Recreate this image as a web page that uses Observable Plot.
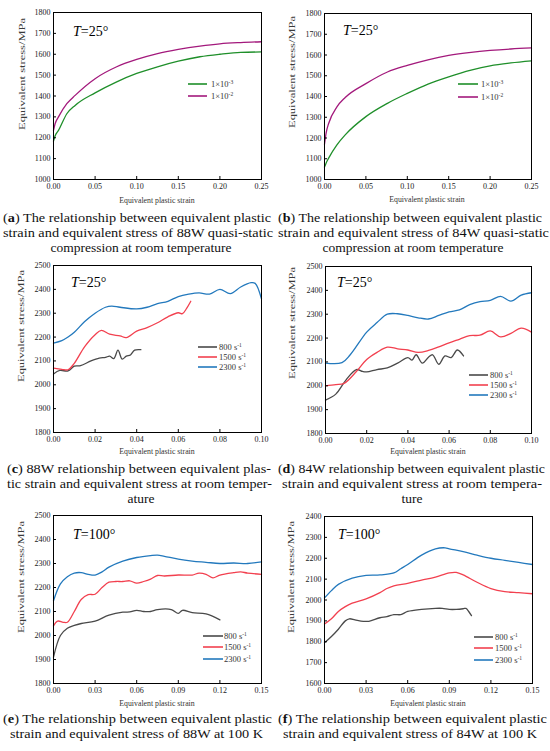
<!DOCTYPE html>
<html><head><meta charset="utf-8">
<script src="https://cdn.jsdelivr.net/npm/d3@7"></script>
<script src="https://cdn.jsdelivr.net/npm/@observablehq/plot@0.6"></script>
<style>
body{margin:0;background:#fff;}
#root{position:relative;width:550px;height:751px;overflow:hidden;background:#fff;}
#root svg{position:absolute;}
</style></head><body><div id="root"></div>
<script>
// ---------- DATA ----------
// (a) 88W quasi-static, room temperature
const aStrain = [0, 0.002, 0.006, 0.016, 0.026, 0.05, 0.076, 0.10, 0.125, 0.15, 0.176, 0.20, 0.225, 0.25];
const aRate3  = [1184, 1210, 1235, 1315, 1355, 1415, 1468, 1508, 1540, 1567, 1588, 1600, 1609, 1611];
const aRate2  = [1235, 1268, 1300, 1363, 1403, 1483, 1540, 1575, 1603, 1623, 1639, 1650, 1656, 1660];
// (b) 84W quasi-static, room temperature
const bStrain = [0, 0.002, 0.005, 0.015, 0.025, 0.05, 0.076, 0.10, 0.125, 0.15, 0.177, 0.20, 0.225, 0.25];
const bRate3  = [1060, 1080, 1103, 1167, 1215, 1303, 1367, 1415, 1460, 1495, 1527, 1548, 1562, 1572];
const bRate2  = [1170, 1225, 1270, 1350, 1395, 1462, 1518, 1550, 1577, 1598, 1613, 1622, 1629, 1634];
// (c) 88W dynamic, room temperature
const c800x  = [0, 0.003, 0.007, 0.010, 0.013, 0.018, 0.022, 0.025, 0.027, 0.029, 0.031, 0.033, 0.035, 0.037, 0.039, 0.042];
const c800y  = [2045, 2060, 2058, 2078, 2080, 2100, 2112, 2115, 2120, 2110, 2145, 2108, 2120, 2125, 2145, 2147];
const c1500x = [0, 0.004, 0.007, 0.010, 0.015, 0.020, 0.023, 0.027, 0.032, 0.035, 0.040, 0.045, 0.050, 0.055, 0.060, 0.062, 0.064, 0.066];
const c1500y = [2070, 2065, 2063, 2090, 2160, 2210, 2228, 2212, 2205, 2198, 2225, 2240, 2260, 2285, 2302, 2298, 2320, 2350];
const c2300x = [0, 0.004, 0.007, 0.010, 0.015, 0.020, 0.025, 0.028, 0.032, 0.040, 0.045, 0.050, 0.055, 0.060, 0.065, 0.070, 0.075, 0.080, 0.085, 0.090, 0.095, 0.097, 0.100];
const c2300y = [2175, 2185, 2200, 2220, 2265, 2300, 2325, 2330, 2325, 2318, 2325, 2340, 2350, 2370, 2380, 2385, 2380, 2400, 2382, 2410, 2428, 2425, 2360];
// (d) 84W dynamic, room temperature
const d800x  = [0, 0.005, 0.010, 0.015, 0.018, 0.020, 0.025, 0.030, 0.035, 0.040, 0.042, 0.044, 0.047, 0.050, 0.052, 0.055, 0.058, 0.061, 0.064, 0.067];
const d800y  = [1940, 1965, 2025, 2068, 2060, 2058, 2068, 2075, 2095, 2118, 2108, 2130, 2095, 2120, 2130, 2090, 2125, 2118, 2150, 2125];
const d1500x = [0, 0.005, 0.009, 0.015, 0.020, 0.025, 0.030, 0.035, 0.040, 0.045, 0.050, 0.055, 0.060, 0.065, 0.070, 0.075, 0.080, 0.085, 0.090, 0.095, 0.100];
const d1500y = [2000, 2005, 2010, 2060, 2110, 2140, 2162, 2155, 2150, 2140, 2148, 2163, 2180, 2195, 2210, 2212, 2230, 2205, 2220, 2242, 2225];
const d2300x = [0, 0.008, 0.012, 0.020, 0.025, 0.030, 0.035, 0.040, 0.045, 0.050, 0.055, 0.060, 0.065, 0.070, 0.075, 0.080, 0.085, 0.090, 0.095, 0.100];
const d2300y = [2095, 2097, 2130, 2225, 2265, 2300, 2302, 2295, 2285, 2280, 2295, 2310, 2318, 2340, 2353, 2358, 2375, 2355, 2380, 2390];
// (e) 88W at 100 K
const e800x  = [0, 0.005, 0.010, 0.015, 0.020, 0.030, 0.040, 0.050, 0.055, 0.060, 0.065, 0.070, 0.075, 0.085, 0.090, 0.093, 0.100, 0.110, 0.120];
const e800y  = [1910, 2000, 2030, 2042, 2050, 2060, 2085, 2097, 2098, 2105, 2100, 2100, 2108, 2108, 2092, 2105, 2095, 2090, 2065];
const e1500x = [0, 0.003, 0.007, 0.010, 0.015, 0.020, 0.025, 0.030, 0.035, 0.040, 0.045, 0.050, 0.055, 0.060, 0.065, 0.070, 0.075, 0.080, 0.090, 0.100, 0.105, 0.110, 0.115, 0.120, 0.130, 0.135, 0.140, 0.150];
const e1500y = [2040, 2060, 2055, 2055, 2100, 2150, 2170, 2172, 2200, 2222, 2225, 2225, 2228, 2218, 2225, 2235, 2250, 2248, 2252, 2252, 2260, 2255, 2240, 2252, 2262, 2265, 2260, 2255];
const e2300x = [0, 0.005, 0.010, 0.015, 0.020, 0.025, 0.030, 0.035, 0.040, 0.050, 0.060, 0.070, 0.075, 0.080, 0.090, 0.100, 0.110, 0.120, 0.130, 0.140, 0.150];
const e2300y = [2145, 2215, 2245, 2260, 2262, 2255, 2252, 2265, 2285, 2310, 2325, 2333, 2335, 2330, 2318, 2310, 2305, 2300, 2302, 2300, 2307];
// (f) 84W at 100 K
const f800x  = [0, 0.005, 0.010, 0.015, 0.018, 0.022, 0.028, 0.032, 0.040, 0.045, 0.050, 0.055, 0.060, 0.070, 0.080, 0.085, 0.090, 0.095, 0.100, 0.102, 0.104, 0.106];
const f800y  = [1795, 1825, 1860, 1900, 1910, 1905, 1898, 1898, 1915, 1920, 1930, 1930, 1945, 1955, 1960, 1960, 1955, 1955, 1958, 1960, 1945, 1925];
const f1500x = [0, 0.005, 0.010, 0.015, 0.020, 0.030, 0.040, 0.045, 0.050, 0.060, 0.070, 0.080, 0.090, 0.095, 0.100, 0.110, 0.120, 0.130, 0.140, 0.150];
const f1500y = [1885, 1910, 1945, 1968, 1985, 2005, 2035, 2055, 2068, 2080, 2095, 2110, 2130, 2132, 2120, 2085, 2055, 2040, 2035, 2030];
const f2300x = [0, 0.005, 0.010, 0.020, 0.030, 0.040, 0.050, 0.055, 0.060, 0.070, 0.080, 0.087, 0.090, 0.100, 0.110, 0.120, 0.130, 0.140, 0.150];
const f2300y = [2010, 2045, 2075, 2105, 2118, 2120, 2130, 2150, 2170, 2215, 2245, 2250, 2245, 2232, 2215, 2200, 2190, 2180, 2170];

// ticks
const xTicksAB = [0, 0.05, 0.10, 0.15, 0.20, 0.25];
const xTicksCD = [0, 0.02, 0.04, 0.06, 0.08, 0.10];
const xTicksEF = [0, 0.03, 0.06, 0.09, 0.12, 0.15];
const yTicksAB = [1000, 1100, 1200, 1300, 1400, 1500, 1600, 1700, 1800];
const yTicksCDE = [1800, 1900, 2000, 2100, 2200, 2300, 2400, 2500];
const yTicksF = [1600, 1700, 1800, 1900, 2000, 2100, 2200, 2300, 2400];

// labels
const quasiLabels = ["1\u00d710|-3", "1\u00d710|-2"];
const rateLabels = ["800 s|-1", "1500 s|-1", "2300 s|-1"];
const tempLabels = {a: "25°", b: "25°", c: "25°", d: "25°", e: "100°", f: "100°"};
const xTitle = "Equivalent plastic strain";
const yTitle = "Equivalent stress/MPa";
const captions = {
  a: ["The relationship between equivalent plastic", "strain and equivalent stress of 88W quasi-static", "compression at room temperature"],
  b: ["The relationship between equivalent plastic", "strain and equivalent stress of 84W quasi-static", "compression at room temperature"],
  c: ["88W relationship between equivalent plas-", "tic strain and equivalent stress at room temper-", "ature"],
  d: ["84W relationship between equivalent plastic", "strain and equivalent stress at room tempera-", "ture"],
  e: ["The relationship between equivalent plastic", "strain and equivalent stress of 88W at 100 K"],
  f: ["The relationship between equivalent plastic", "strain and equivalent stress of 84W at 100 K"]
};

// ---------- STYLE / LAYOUT ----------
const green = "#1f8f2a", magenta = "#a3197c", gray = "#4a4a4a", red = "#f2404f", blue = "#2379bd";
const serif = "'Liberation Serif', 'Times New Roman', serif";

const panels = [
  {id:"a", left:0, top:0, ml:53, mr:14, mt:12, mb:21, xd:[0,0.25], yd:[1000,1800], xt:xTicksAB, yt:yTicksAB, curve:"monotone-x",
   series:[[aStrain,aRate3,green],[aStrain,aRate2,magenta]], labels:quasiLabels,
   leg:{x1:188,x2:207,tx:211,ys:[84,96]}, T:{x:73,y:36}, xT:{x:157,y:203}, yT:{x:25,y:74}, cap:{ys:[222,237,252], fit:[[3,271],[3,273]], cx:141}},
  {id:"b", left:275, top:0, ml:49, mr:19, mt:13, mb:21, xd:[0,0.25], yd:[1000,1800], xt:xTicksAB, yt:yTicksAB, curve:"monotone-x",
   series:[[bStrain,bRate3,green],[bStrain,bRate2,magenta]], labels:quasiLabels,
   leg:{x1:458,x2:478,tx:481,ys:[84,97]}, T:{x:343,y:35}, xT:{x:427,y:202}, yT:{x:295,y:72}, cap:{ys:[222,237,252], fit:[[278,542],[278,549]], cx:413}},
  {id:"c", left:0, top:250, ml:53, mr:14, mt:15, mb:18, xd:[0,0.10], yd:[1800,2500], xt:xTicksCD, yt:yTicksCDE, curve:"catmull-rom",
   series:[[c800x,c800y,gray],[c1500x,c1500y,red],[c2300x,c2300y,blue]], labels:rateLabels,
   leg:{x1:198,x2:217,tx:219,ys:[347,357,367]}, T:{x:71,y:287}, xT:{x:157,y:454}, yT:{x:24,y:326}, cap:{ys:[473,488,503], fit:[[7,271],[7,272]], cx:141}},
  {id:"d", left:275, top:250, ml:50, mr:19, mt:16, mb:17, xd:[0,0.10], yd:[1800,2500], xt:xTicksCD, yt:yTicksCDE, curve:"catmull-rom",
   series:[[d800x,d800y,gray],[d1500x,d1500y,red],[d2300x,d2300y,blue]], labels:rateLabels,
   leg:{x1:469,x2:488,tx:490,ys:[375,385,395]}, T:{x:337,y:287}, xT:{x:428,y:454}, yT:{x:295,y:323}, cap:{ys:[473,488,503], fit:[[278,545],[282,542]], cx:412}},
  {id:"e", left:0, top:500, ml:53, mr:14, mt:15, mb:17, xd:[0,0.15], yd:[1800,2500], xt:xTicksEF, yt:yTicksCDE, curve:"catmull-rom",
   series:[[e800x,e800y,gray],[e1500x,e1500y,red],[e2300x,e2300y,blue]], labels:rateLabels,
   leg:{x1:203,x2:223,tx:224,ys:[636,647,659]}, T:{x:73,y:539}, xT:{x:157,y:706}, yT:{x:24,y:577}, cap:{ys:[723,738], fit:[[3,272],[10,263]], cx:141}},
  {id:"f", left:275, top:500, ml:49, mr:18, mt:16, mb:17, xd:[0,0.15], yd:[1600,2400], xt:xTicksEF, yt:yTicksF, curve:"catmull-rom",
   series:[[f800x,f800y,gray],[f1500x,f1500y,red],[f2300x,f2300y,blue]], labels:rateLabels,
   leg:{x1:474,x2:493,tx:495,ys:[637,648,660]}, T:{x:338,y:539}, xT:{x:428,y:706}, yT:{x:294,y:577}, cap:{ys:[723,738], fit:[[278,547],[283,537]], cx:412}}
];

const root = document.getElementById("root");
const PH = 200;

panels.forEach(p => {
  const marks = [];
  p.series.forEach(([xs, ys, color]) => {
    const rows = xs.map((x, i) => ({x, y: ys[i]}));
    marks.push(Plot.line(rows, {x: "x", y: "y", stroke: color, strokeWidth: 1.3, curve: p.curve}));
  });
  marks.push(Plot.frame({stroke: "#000", strokeWidth: 1}));
  marks.push(Plot.axisX({ticks: p.xt, tickSize: -3, tickPadding: 7, tickFormat: d3.format(".2f"), label: null, fill: "#222"}));
  marks.push(Plot.axisY({ticks: p.yt, tickSize: -3, tickPadding: 6, tickFormat: d => String(d), label: null, fill: "#222"}));
  const svg = Plot.plot({
    width: 275, height: PH,
    marginLeft: p.ml, marginRight: p.mr, marginTop: p.mt, marginBottom: p.mb,
    x: {domain: p.xd}, y: {domain: p.yd},
    style: {fontFamily: serif, fontSize: "8px", color: "#000", background: "transparent", overflow: "visible"},
    marks
  });
  svg.style.left = p.left + "px";
  svg.style.top = p.top + "px";
  root.appendChild(svg);
});

// overlay text layer
const ov = d3.select(root).append("svg")
  .attr("width", 550).attr("height", 751)
  .style("left", "0px").style("top", "0px")
  .style("font-family", serif);

function supText(sel, label, fs) {
  const [main, sup] = label.split("|");
  sel.append("tspan").text(main);
  sel.append("tspan").attr("font-size", fs * 0.65).attr("dy", -fs * 0.38).text(sup);
}

panels.forEach(p => {
  // T label
  const t = ov.append("text").attr("x", p.T.x).attr("y", p.T.y).attr("font-size", 14).attr("fill", "#000");
  t.append("tspan").attr("font-style", "italic").text("T");
  t.append("tspan").text("=" + tempLabels[p.id]);
  // legend
  p.labels.forEach((lab, i) => {
    const y = p.leg.ys[i];
    const color = p.series[i][2];
    ov.append("line").attr("x1", p.leg.x1).attr("x2", p.leg.x2).attr("y1", y).attr("y2", y)
      .attr("stroke", color).attr("stroke-width", 1.6);
    const tx = ov.append("text").attr("x", p.leg.tx).attr("y", y + 3).attr("font-size", 8.5).attr("fill", "#333");
    supText(tx, lab, 8.5);
  });
  // axis titles
  ov.append("text").attr("x", p.xT.x).attr("y", p.xT.y).attr("text-anchor", "middle")
    .attr("font-size", 7.8).attr("fill", "#333").text(xTitle);
  ov.append("text").attr("transform", `translate(${p.yT.x},${p.yT.y}) rotate(-90)`).attr("text-anchor", "middle")
    .attr("font-size", 8.8).attr("textLength", 112).attr("lengthAdjust", "spacingAndGlyphs")
    .attr("fill", "#3a3a3a").text(yTitle);
  // captions
  const lines = captions[p.id];
  lines.forEach((ln, i) => {
    const y = p.cap.ys[i];
    const txt = ov.append("text").attr("y", y).attr("font-size", 13.5).attr("fill", "#111");
    if (i === 0) {
      txt.append("tspan").text("(");
      txt.append("tspan").attr("font-weight", "bold").text(p.id);
      txt.append("tspan").text(") " + ln);
    } else {
      txt.text(ln);
    }
    if (p.cap.fit[i]) {
      const [x1, x2] = p.cap.fit[i];
      txt.attr("x", x1).attr("textLength", x2 - x1).attr("lengthAdjust", "spacingAndGlyphs");
    } else {
      txt.attr("x", p.cap.cx).attr("text-anchor", "middle");
    }
  });
});
</script></body></html>
